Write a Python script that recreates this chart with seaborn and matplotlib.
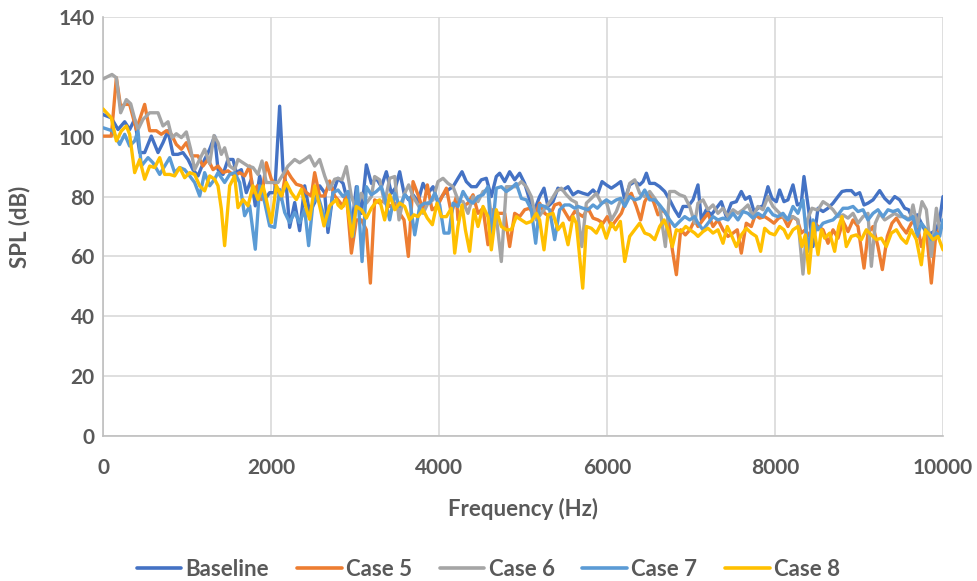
import matplotlib
matplotlib.use("Agg")
import matplotlib.pyplot as plt
import seaborn as sns
import pandas as pd
from matplotlib.lines import Line2D

series_names = ["Baseline", "Case 5", "Case 6", "Case 7", "Case 8"]
series_colors = ["#4472C4", "#ED7D31", "#A5A5A5", "#5B9BD5", "#FFC000"]

x_ticks = [0, 2000, 4000, 6000, 8000, 10000]
y_ticks = [0, 20, 40, 60, 80, 100, 120, 140]

baseline_f = [0, 99, 179, 258, 317, 377, 437, 496, 575, 655, 714, 774, 833, 893, 952, 1012, 1071, 1131, 1210, 1270, 1329,
              1369, 1429, 1488, 1548, 1587, 1647, 1706, 1766, 1813, 1865, 1925, 1984, 2044, 2103, 2143, 2182, 2222, 2282, 2341, 2401, 2460, 2520, 2579, 2639, 2678, 2738,
              2798, 2858, 2917, 2957, 3016, 3076, 3135, 3195, 3254, 3314, 3373, 3433, 3480, 3532, 3584, 3639, 3691, 3750, 3810, 3869, 3929, 3988, 4048, 4107, 4167,
              4226, 4274, 4325, 4385, 4444, 4504, 4563, 4623, 4682, 4722, 4782, 4841, 4901, 4960, 5020, 5079, 5139, 5198, 5250, 5297, 5357, 5416, 5476, 5536, 5595,
              5655, 5714, 5774, 5834, 5885, 5941, 5992, 6052, 6111, 6163, 6211, 6270, 6330, 6389, 6429, 6469, 6508, 6568, 6627, 6687, 6746, 6806, 6857, 6905, 6965, 7024,
              7083, 7123, 7182, 7242, 7301, 7361, 7420, 7480, 7539, 7599, 7646, 7698, 7750, 7805, 7857, 7916, 7964, 8016, 8055, 8107, 8154, 8214, 8266, 8313, 8345, 8400, 8452,
              8512, 8572, 8631, 8691, 8750, 8798, 8849, 8909, 8956, 9008, 9060, 9107, 9167, 9246, 9306, 9365, 9425, 9484, 9544, 9591, 9643, 9694, 9742, 9802, 9861, 9921, 9960, 10000]
baseline_spl = [107.4, 106.3, 102.4, 105, 102.4, 105.8, 94.7, 94.7, 100.2, 94.7, 98, 102, 94.1, 94.1, 94.7, 92.4, 89, 86.9, 92.4, 95.8, 100.2,
                89, 87.4, 92.4, 92.4, 88, 89, 81.3, 85.8, 76.9, 86.9, 79, 81.3, 81.3, 110.2, 89, 83.6, 69.7, 78, 68.6, 83.6, 74.7, 78, 83.6, 81.3, 68, 81.3,
                86.1, 84.4, 77.8, 68.9, 83.3, 74.4, 90.6, 84.4, 86.1, 83.3, 88.3, 81.1, 82.8, 88.3, 81.1, 78.9, 80.6, 78.3, 84.4, 81.1, 83.3, 77.8, 80.6, 82.2, 83.3,
                86.1, 88.3, 85, 83.3, 83.3, 85.6, 86.1, 80, 86.7, 87.8, 85, 88.3, 85.6, 87.8, 84.4, 78.9, 75.6, 80, 82.8, 76.7, 78.3, 82.8, 82.2, 83.3, 80.6,
                81.7, 81.1, 80.6, 82.2, 80.6, 85, 83.9, 82.8, 83.9, 85, 78.9, 83.9, 85, 83.9, 85, 87.8, 84.4, 84.4, 83.3, 81.7, 78.9, 75.6, 73.3, 76.7, 76.7, 78.9,
                83.9, 72.2, 75.6, 73.9, 76.1, 78.3, 73.3, 77.8, 78.3, 81.7, 79.1, 80, 75, 76.3, 76.9, 83.3, 79.4, 78.3, 82.2, 78.3, 78.9, 83.9, 77.2, 77.8, 86.7, 75.6, 63.3,
                76.1, 75, 76.1, 77.8, 80, 81.7, 82, 82, 80.6, 81.3, 77.2, 77.8, 78.9, 82, 79.4, 77.8, 80, 78.9, 76.1, 75.6, 72.2, 73.9, 71.1, 67.8, 67.8, 68.9, 72.2, 80]

case5_f = [0, 99, 159, 210, 258, 317, 397, 496, 556, 635, 694, 754, 813, 873, 933, 992, 1052, 1131, 1190, 1250, 1310,
           1369, 1429, 1488, 1567, 1627, 1686, 1746, 1786, 1837, 1885, 1944, 2004, 2063, 2123, 2182, 2242, 2302, 2361, 2421, 2480, 2520, 2579, 2639, 2698, 2758,
           2798, 2858, 2897, 2957, 3016, 3076, 3135, 3183, 3234, 3294, 3353, 3413, 3473, 3532, 3584, 3635, 3691, 3750, 3810, 3861, 3917, 3980, 4036, 4088, 4147, 4207,
           4226, 4286, 4345, 4405, 4464, 4524, 4583, 4643, 4702, 4782, 4841, 4901, 4960, 5020, 5079, 5139, 5198, 5258, 5317, 5377, 5436, 5496, 5555, 5615,
           5655, 5714, 5774, 5834, 5893, 5953, 6004, 6052, 6111, 6171, 6230, 6290, 6349, 6401, 6449, 6508, 6560, 6607, 6667, 6726, 6778, 6826, 6877, 6933, 6988, 7044,
           7083, 7143, 7202, 7262, 7321, 7381, 7440, 7500, 7551, 7599, 7658, 7718, 7766, 7817, 7877, 7936, 7988, 8043, 8095, 8154, 8206, 8266, 8313, 8361, 8412, 8472,
           8512, 8572, 8631, 8691, 8750, 8810, 8869, 8929, 8988, 9060, 9107, 9167, 9226, 9278, 9337, 9393, 9445, 9504, 9564, 9623, 9683, 9742, 9802, 9861, 9909, 9952, 10000]
case5_spl = [100.2, 100.2, 119.7, 110, 110.8, 110.8, 102.4, 110.8, 102, 102, 100.8, 102, 100.8, 97.4, 95.8, 98, 93.6, 93.6, 90.2, 92.4, 89,
             90.2, 88, 88.6, 86.9, 88, 86.9, 90.2, 81.3, 83.6, 79, 91.3, 85.8, 83.6, 79, 89, 86.3, 84.1, 83.6, 81.3, 80.2, 88, 80.2, 80.2, 85.2, 80.2,
             78.9, 76.7, 81.1, 61.1, 72.2, 72.2, 68.9, 51.1, 78.9, 77.8, 78.9, 76.7, 77.8, 74.4, 72.2, 60, 85, 80.6, 75.6, 83.9, 75.6, 76.7, 80, 82.8, 74.4, 80,
             72.2, 76.7, 77.8, 80.6, 74.4, 76.1, 63.9, 75.6, 74.4, 74.4, 63.3, 74.4, 73.3, 75.6, 76.1, 73.3, 77.8, 74.4, 73.3, 77.2, 77.8, 75, 72.2, 75,
             74.4, 73.3, 76.1, 72.8, 72.2, 71.1, 73.3, 70, 72.2, 74.4, 78.9, 81.1, 76.7, 72.2, 78.3, 81.1, 77.8, 73.9, 75.6, 73.3, 62.2, 53.9, 68.9, 67.2, 68.9, 72.2,
             70, 72.2, 74.4, 70, 72.2, 68.9, 66.7, 67.8, 68.9, 61.1, 71.1, 70, 73.9, 72.8, 73.3, 72.2, 71.1, 72.8, 73.3, 70, 73.3, 72.2, 67.8, 68.9, 66.7, 71.1,
             70, 68.9, 64.4, 68.9, 66.1, 71.7, 68.3, 72.2, 70, 56.1, 67.8, 70, 63.3, 55.6, 66.7, 71.1, 72.8, 70, 67.8, 71.1, 72.2, 63.3, 68.9, 51.1, 65.6, 68.9, 70]

case6_f = [0, 107, 159, 210, 278, 330, 377, 417, 476, 556, 655, 714, 774, 821, 873, 933, 992, 1044, 1091, 1151, 1210, 1270, 1321,
           1369, 1409, 1448, 1508, 1567, 1607, 1667, 1726, 1786, 1845, 1893, 1944, 2004, 2083, 2143, 2202, 2282, 2341, 2401, 2460, 2520, 2579, 2639, 2698, 2758,
           2798, 2846, 2897, 2957, 3016, 3076, 3135, 3195, 3234, 3294, 3353, 3413, 3473, 3524, 3584, 3639, 3691, 3750, 3810, 3869, 3929, 3988, 4048, 4107, 4167,
           4226, 4286, 4345, 4405, 4464, 4524, 4583, 4623, 4682, 4742, 4801, 4861, 4920, 4980, 5040, 5099, 5159, 5218, 5278, 5337, 5397, 5456, 5516, 5575, 5635,
           5700, 5754, 5814, 5873, 5933, 5992, 6052, 6111, 6163, 6218, 6270, 6330, 6389, 6449, 6508, 6568, 6627, 6695, 6746, 6806, 6865, 6925, 6984, 7044,
           7083, 7143, 7202, 7262, 7321, 7381, 7440, 7500, 7559, 7619, 7678, 7738, 7797, 7857, 7916, 7976, 8035, 8095, 8154, 8214, 8273, 8333, 8385, 8440, 8492,
           8512, 8572, 8631, 8691, 8750, 8810, 8869, 8929, 8988, 9048, 9107, 9147, 9194, 9246, 9306, 9365, 9425, 9484, 9544, 9603, 9643, 9694, 9750, 9802, 9861, 9921, 9960, 10000]
case6_spl = [119.3, 120.8, 119.7, 108, 112.4, 111, 106, 102.4, 105.8, 108, 108, 103.6, 105, 99.7, 101, 99.7, 101.6, 95.8, 89, 92.4, 95.8, 91, 100.4,
             98, 94.1, 96.3, 90.2, 89, 92.4, 91.3, 90.2, 89.7, 87.4, 91.9, 84.7, 84.7, 84.7, 87.4, 90.2, 92.4, 91.3, 92.4, 93.6, 90.2, 92.4, 86.9, 82.4, 85.8,
             86.1, 85.6, 90, 80, 75.6, 81.1, 77.8, 80, 86.7, 85.6, 77.8, 86.1, 86.7, 72.2, 80.6, 83.9, 80, 77.2, 74.4, 77.8, 78.9, 85, 86.1, 84.4, 83.3,
             78.9, 78.3, 74.4, 80, 78.3, 81.7, 82.2, 73.3, 73.3, 58.3, 83.3, 83.3, 83.3, 85, 83.3, 80, 72.2, 74.4, 76.7, 78.9, 81.7, 82.8, 80.6, 78.9, 78,
             63.3, 77.8, 79.4, 81.1, 77.8, 78.3, 72.2, 75, 78.9, 78.3, 84.4, 85.6, 81.1, 80, 81.7, 79.4, 76.7, 63.3, 81.7, 81.7, 80.6, 80, 76.7, 71.1,
             77.8, 78.9, 75.6, 77.2, 74.4, 76.1, 73.3, 75.6, 74.4, 75.6, 77.2, 73.3, 76.7, 75.6, 80, 76.7, 75, 73.3, 72.2, 73.3, 72.2, 54.1, 72.2, 76.1, 75.6,
             75.6, 78.3, 77.2, 75.6, 73.3, 73.9, 72.8, 74.4, 71.1, 73.3, 74.4, 56.7, 71.1, 74.4, 72.2, 73.3, 74.4, 73.3, 73.3, 72.2, 77.2, 70, 78.3, 75.6, 60, 76.1, 68.9, 71.1]

case7_f = [0, 119, 198, 258, 317, 377, 417, 456, 536, 595, 675, 734, 794, 853, 913, 972, 1032, 1091, 1151, 1210, 1270, 1329,
           1369, 1448, 1508, 1567, 1627, 1686, 1746, 1813, 1865, 1925, 1984, 2044, 2103, 2163, 2222, 2282, 2341, 2401, 2448, 2500, 2559, 2619, 2678, 2738,
           2798, 2858, 2917, 2976, 3028, 3084, 3135, 3195, 3254, 3314, 3361, 3413, 3473, 3532, 3592, 3651, 3711, 3770, 3830, 3889, 3949, 4008, 4060, 4119, 4167,
           4226, 4286, 4345, 4405, 4464, 4524, 4583, 4623, 4682, 4742, 4801, 4861, 4920, 4980, 5040, 5099, 5151, 5198, 5258, 5317, 5377, 5436, 5496, 5555, 5615,
           5655, 5714, 5774, 5834, 5885, 5941, 5992, 6052, 6111, 6163, 6211, 6270, 6330, 6389, 6449, 6508, 6568, 6627, 6687, 6746, 6806, 6865, 6925, 6984, 7044,
           7083, 7143, 7202, 7262, 7321, 7381, 7440, 7500, 7559, 7619, 7678, 7738, 7797, 7857, 7916, 7976, 8035, 8095, 8154, 8214, 8273, 8333, 8392, 8452,
           8512, 8572, 8631, 8691, 8750, 8810, 8869, 8929, 8988, 9048, 9107, 9167, 9226, 9286, 9345, 9405, 9464, 9524, 9583, 9643, 9694, 9742, 9802, 9861, 9921, 9960, 10000]
case7_spl = [103, 101.9, 97.4, 100.8, 96.9, 98.6, 101.9, 90.2, 93, 91.3, 87.4, 90.2, 93, 88, 89.7, 89, 86.9, 84.7, 80.2, 88, 83.6, 85.8,
             88, 84.7, 87.4, 88, 84.7, 73.6, 76.9, 62.4, 83.6, 78, 70.2, 69.7, 82.4, 74.7, 71.3, 74.7, 71.3, 75.8, 63.6, 78, 80.2, 74.7, 70.2, 81.3,
             82.2, 80, 81.7, 66.7, 83.3, 58.3, 83.3, 80.6, 81.7, 83.3, 78.9, 72.2, 81.1, 76.7, 80.6, 78.9, 67.2, 76.7, 77.8, 77.8, 81.1, 77.2, 67.8, 67.8, 77.8,
             76.7, 81.7, 78.9, 77.8, 80, 80.6, 83.3, 65, 82.8, 83.3, 81.7, 82.8, 84.4, 79.4, 78.9, 75.6, 64.4, 77.2, 76.7, 75.6, 65.6, 75.6, 77.2, 77.2, 76.1,
             76.7, 76.1, 75.6, 77.2, 76.1, 77.8, 78.9, 77.8, 78.9, 79.4, 76.7, 80, 78.9, 79.4, 82.2, 78.9, 78.9, 77.2, 75, 72.2, 70, 71.7, 73.3, 72.2, 73.3,
             71.1, 68.9, 71.1, 73.3, 72.2, 72.8, 72.2, 74.4, 72.2, 75, 74.4, 72.8, 74.4, 73.3, 76.1, 73.9, 73.3, 74.4, 72.2, 76.7, 74.4, 78.9, 61.7, 72.2,
             68.9, 71.1, 71.7, 72.2, 73.9, 76.1, 76.1, 76.7, 75, 75.6, 72.2, 74.4, 75.6, 73.3, 75.6, 75, 75.6, 73.3, 72.2, 73.3, 66.7, 71.1, 68.9, 65.6, 67.8, 66.7, 72.2]

case8_f = [0, 99, 159, 218, 278, 317, 377, 437, 496, 556, 615, 675, 734, 794, 853, 913, 972, 1032, 1091, 1151, 1210, 1270, 1329,
           1369, 1409, 1448, 1508, 1567, 1607, 1667, 1726, 1786, 1845, 1905, 1944, 2004, 2063, 2123, 2182, 2242, 2302, 2361, 2421, 2460, 2520, 2579, 2631, 2698, 2778,
           2798, 2838, 2897, 2965, 3016, 3076, 3135, 3195, 3254, 3294, 3353, 3413, 3473, 3532, 3592, 3651, 3703, 3750, 3810, 3861, 3921, 3976, 4028, 4088, 4147, 4187,
           4226, 4274, 4314, 4365, 4416, 4464, 4524, 4583, 4623, 4682, 4742, 4801, 4861, 4920, 4980, 5040, 5099, 5159, 5198, 5250, 5297, 5357, 5416, 5476, 5536, 5595, 5635,
           5711, 5754, 5814, 5873, 5933, 5992, 6052, 6103, 6159, 6211, 6270, 6330, 6389, 6449, 6508, 6568, 6627, 6679, 6726, 6778, 6826, 6885, 6937, 6988, 7044,
           7083, 7143, 7202, 7262, 7321, 7381, 7432, 7480, 7539, 7599, 7658, 7718, 7777, 7829, 7877, 7936, 7996, 8055, 8107, 8154, 8214, 8273, 8321, 8361, 8404, 8456,
           8512, 8552, 8591, 8651, 8710, 8758, 8798, 8849, 8909, 8968, 9028, 9087, 9147, 9206, 9266, 9325, 9385, 9445, 9504, 9564, 9623, 9683, 9742, 9790, 9841, 9881, 9940, 10000]
case8_spl = [109.3, 106.3, 98.6, 101.9, 103.6, 100.8, 88, 92.4, 85.8, 90.2, 89.7, 93, 87.4, 87.4, 86.9, 89.7, 86.3, 88, 87.4, 83.6, 81.9, 86.9, 85.8,
             83.6, 75.8, 63.6, 83.6, 86.9, 76.3, 79, 76.9, 83.6, 79, 83.6, 79, 71.3, 83.6, 80.2, 84.7, 81.3, 79, 82.4, 75.8, 72.4, 83.6, 76.9, 70.2, 76.9, 79,
             77.2, 76.1, 78.9, 66.7, 76.7, 75.6, 72.8, 76.1, 78.3, 78.9, 72.2, 80.6, 75.6, 77.8, 76.7, 72.2, 73.9, 73.3, 75.6, 72.8, 70.6, 77.8, 73.3, 73.3, 76.1, 61.1,
             70, 77.2, 68.9, 61.7, 75.6, 70, 76.7, 73.3, 62.2, 75.6, 70, 68.9, 68.9, 73.3, 72.2, 71.1, 71.7, 74.4, 72.2, 62.2, 73.9, 74.4, 68.9, 71.1, 63.9, 73.3, 71.1,
             49.4, 70, 69.4, 67.8, 71.1, 66.1, 71.1, 68.9, 71.7, 58.3, 66.7, 68.9, 71.1, 67.8, 67.2, 65.6, 70, 72.2, 68.9, 63.3, 68.9, 68.3, 70, 68.9, 67.8,
             66.7, 68.3, 69.4, 67.8, 68.9, 64.4, 70, 67.2, 63.3, 67.2, 69.4, 67.8, 66.7, 61.7, 69.4, 67.8, 67.2, 70, 68.9, 66.1, 68.9, 70, 63.3, 67.2, 54.4, 71.1,
             60.6, 68.9, 66.1, 67.8, 61.7, 70, 73.3, 63.3, 66.7, 67.2, 65.6, 68.9, 67.2, 65.6, 66.1, 63.3, 67.8, 68.9, 66.1, 64.4, 68.9, 65.6, 57.2, 68.9, 67.2, 65.6, 66.7, 62.2]

freqs = [baseline_f, case5_f, case6_f, case7_f, case8_f]
spls = [baseline_spl, case5_spl, case6_spl, case7_spl, case8_spl]

frames = []
for name, f, s in zip(series_names, freqs, spls):
    frames.append(pd.DataFrame({"Frequency (Hz)": f, "SPL (dB)": s, "series": name}))
df = pd.concat(frames, ignore_index=True)

sns.set_style("white")
plt.rcParams["font.family"] = ["Lato", "DejaVu Sans"]

fig = plt.figure(figsize=(9.77, 5.81), dpi=100)
ax = fig.add_axes([103 / 977, 1 - 436 / 581, 840 / 977, 419 / 581])

sns.lineplot(data=df, x="Frequency (Hz)", y="SPL (dB)", hue="series",
             hue_order=series_names, palette=dict(zip(series_names, series_colors)),
             estimator=None, sort=False, linewidth=2.4, ax=ax, legend=False, zorder=3)

ax.set_xlim(0, 10000)
ax.set_ylim(0, 140)
ax.set_xticks(x_ticks)
ax.set_yticks(y_ticks)
ax.grid(True, color="#D9D9D9", linewidth=1.2, zorder=0)
ax.set_axisbelow(True)
for side in ["top", "right"]:
    ax.spines[side].set_visible(False)
for side in ["left", "bottom"]:
    ax.spines[side].set_color("#BFBFBF")
    ax.spines[side].set_linewidth(1.2)
ax.tick_params(axis="both", length=0, labelsize=15, labelcolor="#595959")
ax.tick_params(axis="x", pad=16)
ax.tick_params(axis="y", pad=6)
for lbl in ax.get_xticklabels() + ax.get_yticklabels():
    lbl.set_fontweight("bold")
ax.set_xlabel("Frequency (Hz)", fontsize=16, fontweight="bold", color="#595959", labelpad=14)
ax.set_ylabel("SPL (dB)", fontsize=16, fontweight="bold", color="#595959", labelpad=20)

handles = [Line2D([], [], color=c, linewidth=2.6) for c in series_colors]
fig.legend(handles, series_names, loc="center", bbox_to_anchor=(0.5, 0.02), ncol=5,
           frameon=False, prop={"family": ["Lato", "DejaVu Sans"], "weight": "bold", "size": 16},
           labelcolor="#595959", handlelength=2.0, handletextpad=0.2, columnspacing=1.25)

fig.savefig("out.png", dpi=100)
